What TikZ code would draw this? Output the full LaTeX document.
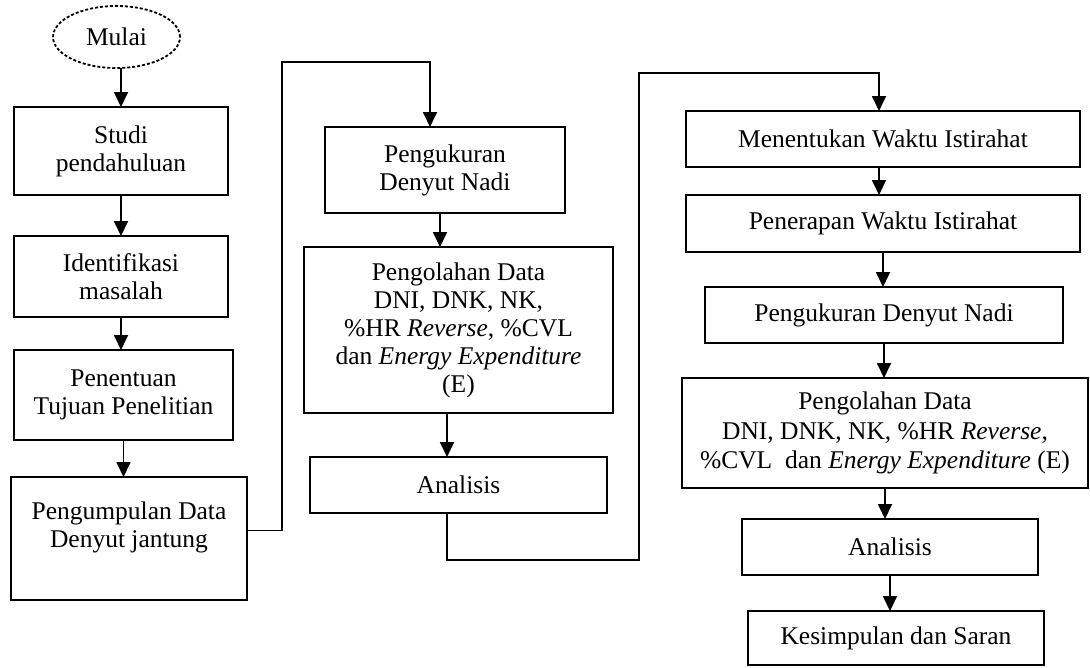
\documentclass[tikz,border=0pt]{standalone}
\usepackage{fontspec}
\setmainfont{Liberation Serif}
\usetikzlibrary{arrows.meta}
\usetikzlibrary{positioning}
\usetikzlibrary{shapes.geometric}
\tikzset{box/.style={draw, rectangle, align=center, outer sep=0pt, font=\fontsize{25.5}{28}\selectfont}}
\tikzset{start/.style={draw, ellipse, dashed, dash pattern=on 3pt off 2pt, outer sep=0pt, font=\fontsize{25.5}{28}\selectfont}}

\begin{document}
\begin{tikzpicture}[x=1pt, y=1pt, line width=1.8pt, -{Triangle[width=14pt,length=15pt]}]
            \useasboundingbox (0,0) rectangle (1090,-667);
            % kolom 1
            \node[start, minimum width=127pt, minimum height=62pt] (mulai) at (116.5,-37) {Mulai};
            \node[box, minimum width=214pt, minimum height=88pt, below = 39pt of mulai, xshift=4.5pt] (studi) {Studi\\pendahuluan};
            \node[box, minimum width=214pt, minimum height=81pt, below = 41pt of studi] (ident) {Identifikasi\\masalah};
            \node[box, minimum width=219pt, minimum height=90pt, below = 33pt of ident, xshift=2.5pt] (tujuan) {Penentuan\\Tujuan Penelitian};
            \node[box, minimum width=236pt, minimum height=123pt, below = 37pt of tujuan, xshift=5.5pt] (kumpul) {Pengumpulan Data\\Denyut jantung\\ \mbox{}};
            % kolom 2
            \node[box, minimum width=240pt, minimum height=86pt] (ukur) at (445,-170) {Pengukuran\\Denyut Nadi};
            \node[box, minimum width=309pt, minimum height=166pt, below = 34pt of ukur, xshift=13.5pt] (olah) {Pengolahan Data\\DNI, DNK, NK,\\\%HR \textit{Reverse}, \%CVL\\dan \textit{Energy Expenditure}\\(E)};
            \node[box, minimum width=297pt, minimum height=56pt, below = 44pt of olah] (analisis) {Analisis};
            % kolom 3
            \node[box, minimum width=394pt, minimum height=56pt] (tentu) at (883,-139) {Menentukan Waktu Istirahat};
            \node[box, minimum width=394pt, minimum height=57pt, below = 28pt of tentu] (terap) {Penerapan Waktu Istirahat};
            \node[box, minimum width=358pt, minimum height=56pt, below = 35pt of terap, xshift=1pt] (ukurdua) {Pengukuran Denyut Nadi};
            \node[box, minimum width=406pt, minimum height=110pt, below = 35pt of ukurdua, xshift=1pt, font=\fontsize{25.5}{29.5}\selectfont] (olahdua) {Pengolahan Data\\DNI, DNK, NK, \%HR \textit{Reverse},\\\%CVL\ \ dan \textit{Energy Expenditure} (E)};
            \node[box, minimum width=296pt, minimum height=56pt, below = 31pt of olahdua, xshift=5pt] (analisisdua) {Analisis};
            \node[box, minimum width=296pt, minimum height=54pt, below = 36pt of analisisdua, xshift=6pt] (simpul) {Kesimpulan dan Saran};
            % titik belok
            \coordinate (siku1) at (282,-62);
            \coordinate (siku2) at (639,-560);
            \coordinate (siku3) at (639,-73);
            \path (studi.north |- mulai.south) edge (studi.north)
            (studi.south) edge (studi.south |- ident.north)
            (ident.south) edge (ident.south |- tujuan.north)
            (tujuan.south) edge (tujuan.south |- kumpul.north)
            ([xshift=-5pt]ukur.south) edge ([xshift=-5pt]ukur.south |- olah.north)
            ([xshift=-11.5pt]olah.south) edge ([xshift=-11.5pt]olah.south |- analisis.north)
            ([xshift=-4pt]tentu.south) edge ([xshift=-4pt]tentu.south |- terap.north)
            (terap.south) edge (terap.south |- ukurdua.north)
            (ukurdua.south) edge (ukurdua.south |- olahdua.north)
            (olahdua.south) edge (olahdua.south |- analisisdua.north)
            (analisisdua.south) edge (analisisdua.south |- simpul.north)
            ;
            \draw ([yshift=8pt]kumpul.east) -| (siku1) -| ([xshift=-15pt]ukur.north);
            \draw ([xshift=-11.5pt]analisis.south) |- (siku2) -- (siku3) -| ([xshift=-4pt]tentu.north);
        \end{tikzpicture}
\end{document}
